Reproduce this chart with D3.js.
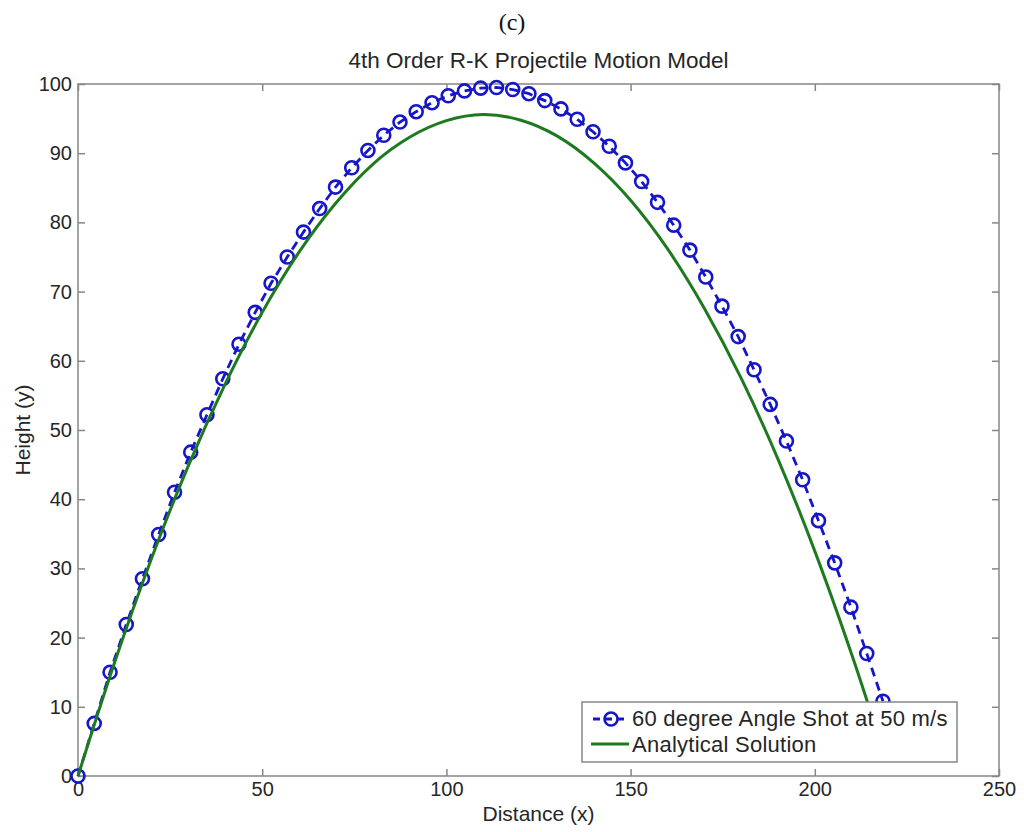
<!DOCTYPE html>
<html>
<head>
<meta charset="utf-8">
<script src="https://cdn.jsdelivr.net/npm/d3@7"></script>
<style>
  body { margin: 0; background: #fff; }
  svg { display: block; font-family: "Liberation Sans", Arial, sans-serif; }
</style>
</head>
<body>
<div id="plot"></div>
<script>
// RK4 solution (blue, circles, dashed)
var rkX = [0, 4.4, 8.7, 13.1, 17.5, 21.9, 26.2, 30.6, 35.0, 39.3,
  43.7, 48.1, 52.4, 56.8, 61.2, 65.6, 69.9, 74.3, 78.7, 83.0,
  87.4, 91.8, 96.1, 100.5, 104.9, 109.3, 113.6, 118.0, 122.4, 126.7,
  131.1, 135.5, 139.8, 144.2, 148.6, 153.0, 157.3, 161.7, 166.1, 170.4,
  174.8, 179.2, 183.5, 187.9, 192.3, 196.7, 201.0, 205.4, 209.8, 214.1, 218.5];
var rkY = [0, 7.6, 15.0, 21.9, 28.5, 34.9, 41.0, 46.8, 52.2, 57.4,
  62.4, 67.0, 71.2, 75.0, 78.6, 82.0, 85.1, 87.9, 90.4, 92.6,
  94.5, 96.0, 97.3, 98.3, 99.0, 99.4, 99.5, 99.2, 98.6, 97.6,
  96.4, 94.9, 93.1, 91.0, 88.6, 85.9, 82.9, 79.6, 76.0, 72.1,
  67.9, 63.5, 58.7, 53.7, 48.4, 42.8, 36.9, 30.8, 24.4, 17.7, 10.8];

// analytical solution (green)
var anX = [0, 10, 20, 30, 40, 50, 60, 70, 80, 90, 100, 110, 120, 130, 140,
  150, 160, 170, 180, 190, 200, 210, 218.5];
var anY = [0, 16.5, 31.5, 44.9, 56.7, 67.0, 75.7, 82.8, 88.4, 92.3, 94.7, 95.6, 94.8, 92.5, 88.6,
  83.2, 76.2, 67.6, 57.5, 45.8, 32.5, 17.6, 3.7];

var xTicks = [0, 50, 100, 150, 200, 250];
var yTicks = [0, 10, 20, 30, 40, 50, 60, 70, 80, 90, 100];
var seriesNames = ["60 degree Angle Shot at 50 m/s", "Analytical Solution"];

var margin = { top: 84, right: 25, bottom: 56, left: 78 };
var W = 1024, H = 832;
var width = W - margin.left - margin.right;
var height = H - margin.top - margin.bottom;

var axisColor = "#868686";
var textColor = "#262626";
var blue = "#1616c8";
var green = "#1e7a1e";

var svg = d3.select("#plot").append("svg")
  .attr("width", W)
  .attr("height", H);

var g = svg.append("g")
  .attr("transform", "translate(" + margin.left + "," + margin.top + ")");

var x = d3.scaleLinear().domain([0, 250]).range([0, width]);
var y = d3.scaleLinear().domain([0, 100]).range([height, 0]);

// axes, ticks pointing inward like matlab
function styleAxis(sel, size) {
  sel.select(".domain").remove();
  sel.selectAll(".tick line").attr("stroke", axisColor).attr("stroke-width", 1.5);
  sel.selectAll(".tick text").attr("fill", textColor).attr("font-size", size);
  sel.attr("font-family", null);
}

g.append("g")
  .attr("transform", "translate(0," + height + ")")
  .call(d3.axisBottom(x).tickValues(xTicks).tickSize(-7).tickPadding(6))
  .call(styleAxis, 20);

g.append("g")
  .call(d3.axisLeft(y).tickValues(yTicks).tickSize(-7).tickPadding(6))
  .call(styleAxis, 20);

g.append("g")
  .call(d3.axisTop(x).tickValues(xTicks).tickSize(-7).tickFormat(""))
  .call(styleAxis, 20);

g.append("g")
  .attr("transform", "translate(" + width + ",0)")
  .call(d3.axisRight(y).tickValues(yTicks).tickSize(-7).tickFormat(""))
  .call(styleAxis, 20);

g.append("rect")
  .attr("width", width)
  .attr("height", height)
  .attr("fill", "none")
  .attr("stroke", axisColor)
  .attr("stroke-width", 1.5);

// lines
var rkData = rkX.map((d, i) => ({ x: d, y: rkY[i] }));
var anData = anX.map((d, i) => ({ x: d, y: anY[i] }));

var lineGen = d3.line().x((d) => x(d.x)).y((d) => y(d.y));

g.append("path")
  .datum(rkData)
  .attr("fill", "none")
  .attr("stroke", blue)
  .attr("stroke-width", 2.8)
  .attr("stroke-dasharray", "9,6")
  .attr("d", lineGen);

g.selectAll(".marker")
  .data(rkData)
  .enter()
  .append("circle")
  .attr("class", "marker")
  .attr("cx", (d) => x(d.x))
  .attr("cy", (d) => y(d.y))
  .attr("r", 6.5)
  .attr("fill", "none")
  .attr("stroke", blue)
  .attr("stroke-width", 2.6);

g.append("path")
  .datum(anData)
  .attr("fill", "none")
  .attr("stroke", green)
  .attr("stroke-width", 3)
  .attr("d", lineGen.curve(d3.curveCardinal));

// legend
var lg = svg.append("g").attr("transform", "translate(582,702)");
lg.append("rect")
  .attr("width", 375)
  .attr("height", 60)
  .attr("fill", "#fff")
  .attr("stroke", axisColor)
  .attr("stroke-width", 1.5);

lg.append("line")
  .attr("x1", 11).attr("x2", 46).attr("y1", 17).attr("y2", 17)
  .attr("stroke", blue).attr("stroke-width", 2.8).attr("stroke-dasharray", "7,5");
lg.append("circle")
  .attr("cx", 29).attr("cy", 17).attr("r", 6.5)
  .attr("fill", "none").attr("stroke", blue).attr("stroke-width", 2.6);
lg.append("line")
  .attr("x1", 9).attr("x2", 47).attr("y1", 42).attr("y2", 42)
  .attr("stroke", green).attr("stroke-width", 3);

lg.selectAll(".ltext")
  .data(seriesNames)
  .enter()
  .append("text")
  .attr("x", 50)
  .attr("y", (d, i) => 24 + i * 26)
  .attr("font-size", 22)
  .attr("letter-spacing", 0.25)
  .attr("fill", textColor)
  .text((d) => d);

// titles
svg.append("text")
  .attr("x", 512)
  .attr("y", 30)
  .attr("text-anchor", "middle")
  .attr("font-family", "'Liberation Serif', 'Times New Roman', serif")
  .attr("font-size", 24)
  .attr("fill", "#111")
  .text("(c)");

svg.append("text")
  .attr("x", margin.left + width / 2)
  .attr("y", 68)
  .attr("text-anchor", "middle")
  .attr("font-size", 22.5)
  .attr("fill", textColor)
  .text("4th Order R-K Projectile Motion Model");

svg.append("text")
  .attr("x", margin.left + width / 2)
  .attr("y", 821)
  .attr("text-anchor", "middle")
  .attr("font-size", 21)
  .attr("fill", textColor)
  .text("Distance (x)");

svg.append("text")
  .attr("transform", "translate(30," + (margin.top + height / 2) + ") rotate(-90)")
  .attr("text-anchor", "middle")
  .attr("font-size", 21)
  .attr("fill", textColor)
  .text("Height (y)");
</script>
</body>
</html>
